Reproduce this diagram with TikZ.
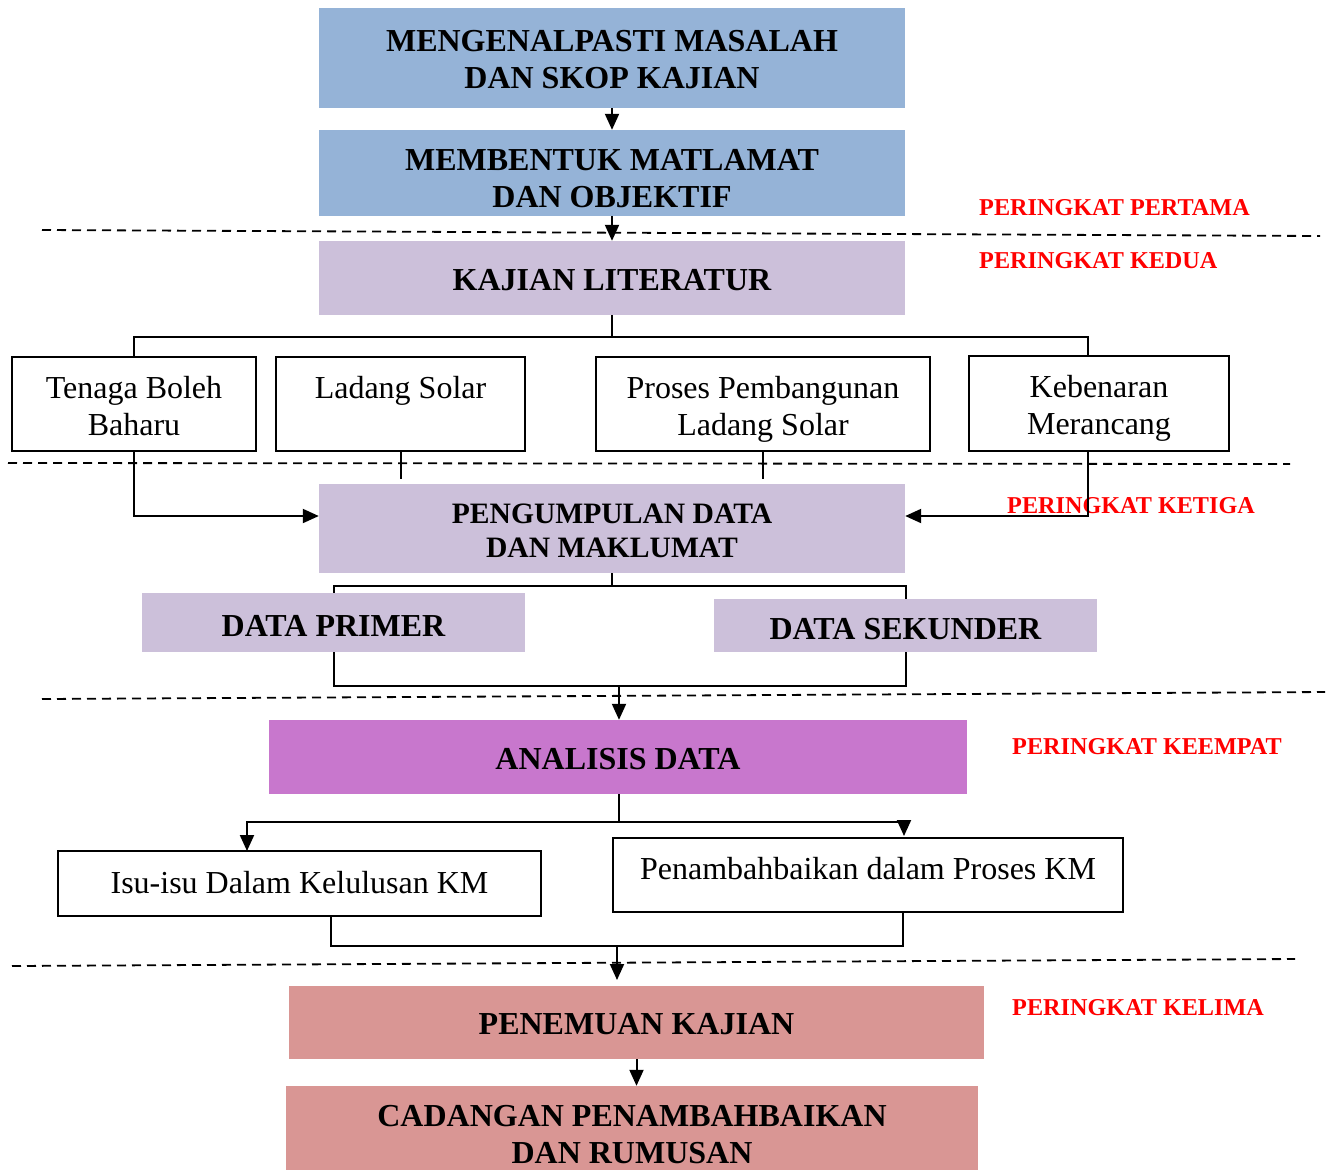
\documentclass[tikz,border=0pt]{standalone}
\usepackage{fontspec}
\setmainfont{Liberation Serif}
\usetikzlibrary{arrows.meta}
\definecolor{boxblue}{HTML}{95B3D7}
\definecolor{boxlav}{HTML}{CCC0DA}
\definecolor{boxmag}{HTML}{C877CD}
\definecolor{boxpink}{HTML}{D99694}
\tikzset{
  fbox/.style={inner sep=0pt},
  wbox/.style={draw, line width=1.6pt, inner sep=0pt},
  btxt/.style={inner sep=0pt, align=center, font=\bfseries\fontsize{32}{37}\selectfont},
  rtxt/.style={inner sep=0pt, align=center, font=\fontsize{32}{37}\selectfont},
  conn/.style={line width=2pt},
  arr/.style={conn, -{Triangle[length=16pt,width=14pt]}},
  sepline/.style={line width=1.8pt, dash pattern=on 9pt off 6pt},
  lvl/.style={text=red, font=\bfseries\fontsize{24.2}{28}\selectfont, anchor=base west, inner sep=0pt},
}
\begin{document}
\begin{tikzpicture}[x=1pt,y=-1pt]
\useasboundingbox (0,0) rectangle (1332,1171);

% dashed level separators
\draw[sepline] (42,230) -- (1320,236);
\draw[sepline] (8,463) -- (1290,464);
\draw[sepline] (42,699) -- (1325,692);
\draw[sepline] (12,966) -- (1295,959);

% boxes
\node[fbox, fill=boxblue, minimum width=586pt, minimum height=100pt,
  label={[btxt, name=b1t, yshift=-2pt]center:{MENGENALPASTI MASALAH\\DAN SKOP KAJIAN}}] (b1) at (612,58) {};
\node[fbox, fill=boxblue, minimum width=586pt, minimum height=86pt,
  label={[btxt, name=b2t, yshift=-6pt]center:{MEMBENTUK MATLAMAT\\DAN OBJEKTIF}}] (b2) at (612,173) {};
\node[fbox, fill=boxlav, minimum width=586pt, minimum height=74pt,
  label={[btxt, name=b3t, yshift=-2pt]center:{KAJIAN LITERATUR}}] (b3) at (612,278) {};

\node[wbox, minimum width=244pt, minimum height=94pt,
  label={[rtxt, name=t1t, yshift=-2pt]center:{Tenaga Boleh\\Baharu}}] (t1) at (134,404) {};
\node[wbox, minimum width=249pt, minimum height=94pt,
  label={[rtxt, name=t2t, yshift=-2pt]center:{Ladang Solar\\\mbox{}}}] (t2) at (400.5,404) {};
\node[wbox, minimum width=334pt, minimum height=94pt,
  label={[rtxt, name=t3t, yshift=-5pt]center:{Proses Pembangunan\\Ladang Solar}}] (t3) at (763,404) {};
\node[wbox, minimum width=260pt, minimum height=95pt,
  label={[rtxt, name=t4t, yshift=-5pt]center:{Kebenaran\\Merancang}}] (t4) at (1099,403.5) {};

\node[fbox, fill=boxlav, minimum width=586pt, minimum height=89pt,
  label={[btxt, name=b4t, yshift=-2pt, font=\bfseries\fontsize{29.6}{34}\selectfont]center:{PENGUMPULAN DATA\\DAN MAKLUMAT}}] (b4) at (612,528.5) {};
\node[fbox, fill=boxlav, minimum width=383pt, minimum height=59pt,
  label={[btxt, name=dpt, yshift=-3pt]center:{DATA PRIMER}}] (dp) at (333.5,622.5) {};
\node[fbox, fill=boxlav, minimum width=383pt, minimum height=53pt,
  label={[btxt, name=dst, yshift=-4pt]center:{DATA SEKUNDER}}] (ds) at (905.5,625.5) {};

\node[fbox, fill=boxmag, minimum width=698pt, minimum height=74pt,
  label={[btxt, name=ant, yshift=-2pt]center:{ANALISIS DATA}}] (an) at (618,757) {};

\node[wbox, minimum width=483pt, minimum height=65pt,
  label={[rtxt, name=i1t, yshift=1pt]center:{Isu-isu Dalam Kelulusan KM}}] (i1) at (299.5,883.5) {};
\node[wbox, minimum width=510pt, minimum height=74pt,
  label={[rtxt, name=i2t, yshift=6pt]center:{Penambahbaikan dalam Proses KM}}] (i2) at (868,875) {};

\node[fbox, fill=boxpink, minimum width=695pt, minimum height=73pt,
  label={[btxt, name=pkt, yshift=-2pt]center:{PENEMUAN KAJIAN}}] (pk) at (636.5,1022.5) {};
\node[fbox, fill=boxpink, minimum width=692pt, minimum height=84pt,
  label={[btxt, name=cdt, yshift=-7pt]center:{CADANGAN PENAMBAHBAIKAN\\DAN RUMUSAN}}] (cd) at (632,1128) {};

% level labels
\node[lvl] (l1) at (979,215) {PERINGKAT PERTAMA};
\node[lvl] (l2) at (979,268) {PERINGKAT KEDUA};
\node[lvl] (l3) at (1007,513) {PERINGKAT KETIGA};
\node[lvl] (l4) at (1012,754) {PERINGKAT KEEMPAT};
\node[lvl] (l5) at (1012,1015) {PERINGKAT KELIMA};

% helper coordinates
\coordinate (j1) at (612,337);
\coordinate (xk) at (1088,0);
\coordinate (y516) at (0,516);
\coordinate (y479) at (0,479);
\coordinate (j2) at (612,586);
\coordinate (j3) at (619,686);
\coordinate (j4) at (619,822);
\coordinate (a1) at (247,851);
\coordinate (a2) at (904,836);
\coordinate (j5) at (617,946);
\coordinate (a3) at (617,980);

% connectors
\draw[arr] (b1.south) -- (b2.north);
\draw[arr] (b2.south) -- (b3.north);
\draw[conn] (b3.south) -- (j1);
\draw[conn] (t1.north) |- (j1) -| (t4.north -| xk);
\draw[arr] (t1.south) |- (b4.west |- y516);
\draw[arr] (t4.south -| xk) |- (b4.east |- y516);
\draw[conn] (t2.south) -- (t2.south |- y479);
\draw[conn] (t3.south) -- (t3.south |- y479);
\draw[conn] (b4.south) -- (j2);
\draw[conn] (dp.north) |- (j2) -| (ds.north);
\draw[conn] (dp.south) |- (j3) -| (ds.south);
\draw[arr] (j3) -- (an.north -| j3);
\draw[conn] (an.south -| j4) -- (j4);
\draw[arr] (j4) -| (a1);
\draw[arr] (j4) -| (a2);
\draw[conn] (i1.south -| 331,0) |- (j5) -| (i2.south -| 903,0);
\draw[arr] (j5) -- (a3);
\draw[arr] (pk.south) -- (pk.south |- cd.north);
\end{tikzpicture}
\end{document}
